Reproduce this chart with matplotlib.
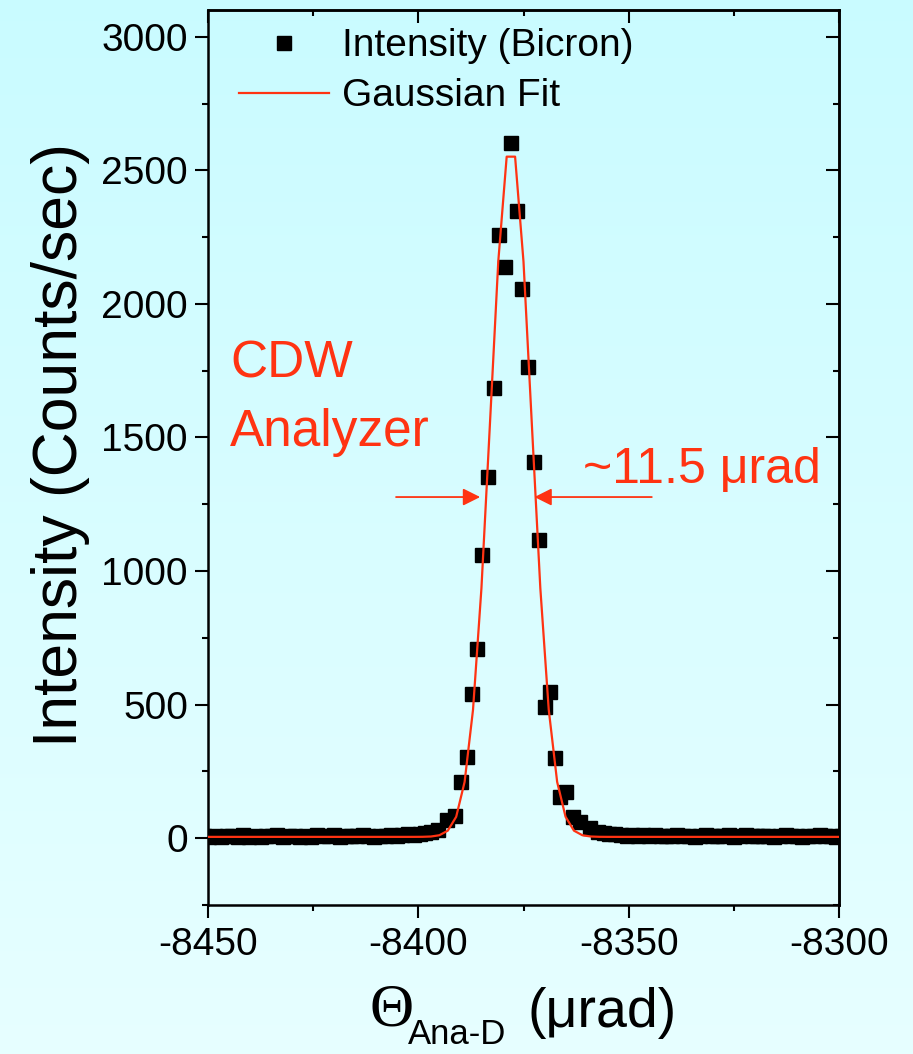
import numpy as np
import matplotlib
matplotlib.use("Agg")
import matplotlib.pyplot as plt
from matplotlib.ticker import MultipleLocator

plt.rcParams['font.family'] = ['Liberation Sans', 'DejaVu Sans']
plt.rcParams['axes.unicode_minus'] = False

# ---- measured scan: analyzer angle (urad) vs detector counts ----
theta_left = [-8451.0, -8449.7, -8448.3, -8447.0, -8445.6, -8444.3, -8442.9, -8441.6,
              -8440.2, -8438.9, -8437.5, -8436.2, -8434.8, -8433.5, -8432.1, -8430.8,
              -8429.4, -8428.1, -8426.7, -8425.4, -8424.0, -8422.7, -8421.3, -8420.0,
              -8418.6, -8417.3, -8415.9, -8414.6, -8413.2, -8411.9, -8410.5, -8409.2,
              -8407.8, -8406.5, -8405.1, -8403.8, -8402.4, -8401.1, -8399.7, -8398.4,
              -8397.0]
counts_left = [8, 6, 10, 4, 7, 9, 5, 11, 6, 8, 3, 9, 7, 12, 5, 8, 10, 6, 9, 4, 11,
               7, 8, 13, 6, 9, 10, 7, 12, 8, 5, 10, 9, 13, 8, 11, 14, 12, 16, 18, 22]

theta_peak = [-8395.4, -8393.2, -8391.3, -8389.9, -8388.5, -8387.2, -8386.1, -8384.8,
              -8383.4, -8382.1, -8380.8, -8379.3, -8378.0, -8376.6, -8375.3, -8373.9,
              -8372.6, -8371.2, -8369.8, -8368.8, -8367.4, -8366.3, -8364.9, -8363.2,
              -8361.6, -8359.2, -8357.3]
counts_peak = [30, 67, 82, 210, 305, 539, 709, 1061, 1351, 1685, 2258, 2137, 2604,
               2349, 2057, 1763, 1408, 1115, 492, 548, 301, 154, 172, 79, 60, 37, 22]

theta_right = [-8355.9, -8354.6, -8353.2, -8351.9, -8350.5, -8349.2, -8347.8, -8346.5,
               -8345.1, -8343.8, -8342.4, -8341.1, -8339.7, -8338.4, -8337.0, -8335.7,
               -8334.3, -8333.0, -8331.6, -8330.3, -8328.9, -8327.6, -8326.2, -8324.9,
               -8323.5, -8322.2, -8320.8, -8319.5, -8318.1, -8316.8, -8315.4, -8314.1,
               -8312.7, -8311.4, -8310.0, -8308.7, -8307.3, -8306.0, -8304.6, -8303.3,
               -8301.9, -8300.6, -8299.2]
counts_right = [18, 14, 16, 12, 10, 13, 9, 11, 8, 12, 10, 7, 9, 11, 8, 10, 6, 9, 12,
                7, 8, 10, 11, 6, 9, 13, 8, 7, 10, 9, 5, 8, 11, 7, 9, 6, 10, 8, 12, 7,
                9, 6, 8]

theta = np.array(theta_left + theta_peak + theta_right)
counts = np.array(counts_left + counts_peak + counts_right)

# ---- Gaussian fit parameters ----
fit_center = -8378.0
fit_fwhm = 11.5
fit_amplitude = 2600.0
fit_offset = 5.0

x_ticks = [-8450, -8400, -8350, -8300]
y_ticks = [0, 500, 1000, 1500, 2000, 2500, 3000]

RED = '#ff3312'
W, H = 913, 1054

fig = plt.figure(figsize=(W / 100, H / 100), dpi=100)

# background gradient
bg = fig.add_axes([0, 0, 1, 1], zorder=-10)
grad = np.linspace(0, 1, 256)[:, None]
top = np.array([0.79, 0.985, 1.0])
bot = np.array([0.905, 1.0, 1.0])
img = top[None, None, :] * (1 - grad[:, :, None]) + bot[None, None, :] * grad[:, :, None]
bg.imshow(img, aspect='auto', extent=[0, 1, 0, 1])
bg.set_axis_off()

def fx(px):
    return px / W

def fy(py):
    return 1 - py / H

ax = fig.add_axes([fx(208), fy(905), fx(839) - fx(208), fy(10) - fy(905)])
ax.set_facecolor('none')

sigma = fit_fwhm / (2 * np.sqrt(2 * np.log(2)))
fit_x = np.arange(-8451.0, -8297.0, 2.0)
fit_y = fit_offset + fit_amplitude * np.exp(-(fit_x - fit_center) ** 2 / (2 * sigma ** 2))

ax.plot(theta, counts, 's', color='black', markersize=10, label='Intensity (Bicron)',
        zorder=2, clip_on=True)
ax.plot(fit_x, fit_y, '-', color=RED, lw=1.6, label='Gaussian Fit', zorder=3)

ax.set_xlim(-8450, -8300)
ax.set_ylim(-250, 3100)
ax.set_xticks(x_ticks)
ax.set_xticklabels([str(v) for v in x_ticks])
ax.set_yticks(y_ticks)
ax.set_yticklabels([str(v) for v in y_ticks])
ax.xaxis.set_minor_locator(MultipleLocator(25))
ax.yaxis.set_minor_locator(MultipleLocator(250))

for s in ax.spines.values():
    s.set_linewidth(1.8)
ax.tick_params(axis='both', which='major', direction='out', length=9.5, width=1.5,
               labelsize=28, pad=5, top=False, right=False)
ax.tick_params(axis='both', which='minor', direction='out', length=4.5, width=1.5,
               top=False, right=False)
ax.tick_params(axis='x', which='major', pad=6)

# inward ticks on the top and right edges
sx = ax.secondary_xaxis('top')
sx.set_xticks(x_ticks)
sx.xaxis.set_minor_locator(MultipleLocator(25))
sx.tick_params(which='major', direction='in', length=9.5, width=1.5, labeltop=False)
sx.tick_params(which='minor', direction='in', length=4.5, width=1.5)
sx.spines['top'].set_linewidth(1.8)
sy = ax.secondary_yaxis('right')
sy.set_yticks(y_ticks)
sy.yaxis.set_minor_locator(MultipleLocator(250))
sy.tick_params(which='major', direction='in', length=9.5, width=1.5, labelright=False)
sy.tick_params(which='minor', direction='in', length=4.5, width=1.5)
sy.spines['right'].set_linewidth(1.8)

leg = ax.legend(loc='upper left', bbox_to_anchor=(0.025, 0.997), frameon=False, fontsize=28,
                handlelength=2.3, handletextpad=0.35, labelspacing=0.36,
                borderaxespad=0.1, borderpad=0.3)

# axis labels
fig.text(fx(61), fy(445), 'Intensity (Counts/sec)', rotation=90, ha='center',
         va='center', fontsize=45)
fig.text(fx(369), fy(1026), '\u0398', family=['Liberation Serif'], fontsize=44,
         ha='left', va='baseline')
fig.text(fx(408), fy(1044), 'Ana-D', fontsize=25, ha='left', va='baseline')
fig.text(fx(527), fy(1027), '(\u03bcrad)', fontsize=40, ha='left', va='baseline')

# annotations
fig.text(fx(230), fy(378), 'CDW', color=RED, fontsize=37, ha='left', va='baseline')
fig.text(fx(230), fy(446), 'Analyzer', color=RED, fontsize=37, ha='left', va='baseline')
fig.text(fx(583), fy(483), '~11.5 \u03bcrad', color=RED, fontsize=36, ha='left',
         va='baseline')

half_level = 1277
arrow_kw = dict(arrowstyle='-|>', color=RED, lw=1.3, mutation_scale=26,
                shrinkA=0, shrinkB=0)
ax.annotate('', xy=(-8385.3, half_level), xytext=(-8405.3, half_level),
            arrowprops=arrow_kw)
ax.annotate('', xy=(-8372.4, half_level), xytext=(-8344.5, half_level),
            arrowprops=arrow_kw)

fig.savefig('out.png', dpi=100)
